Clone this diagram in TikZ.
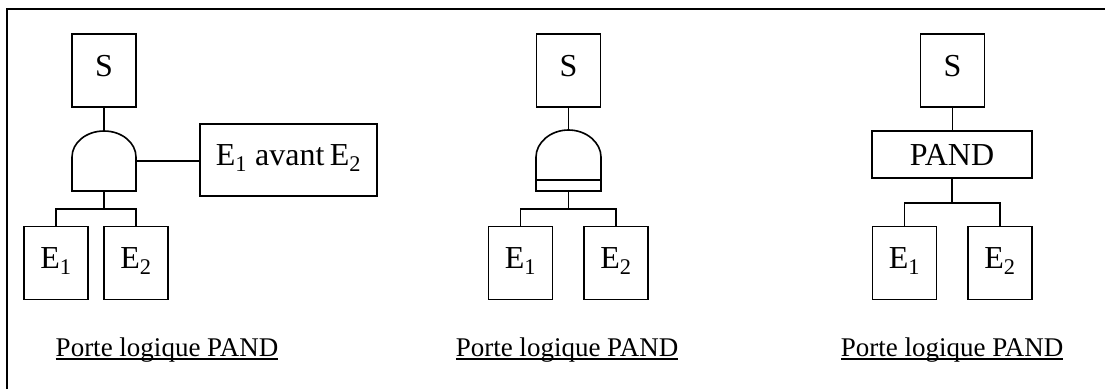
\documentclass[tikz,border=0pt]{standalone}
\usepackage{fontspec}
\setmainfont{Liberation Serif}
\newcommand{\myul}[1]{{\setbox0\hbox{#1}\rlap{\rule[-3.6pt]{\wd0}{1.9pt}}\box0}}
\begin{document}
\begin{tikzpicture}[x=1pt,y=-1pt,
  every node/.style={font=\fontsize{32}{36}\selectfont},
  evbox/.style={draw, line width=1.6pt, minimum width=64pt, minimum height=73pt,
    inner sep=0pt, text height=21pt, text depth=10pt},
  wide/.style={draw, line width=1.6pt, minimum width=177pt, minimum height=72pt,
    inner sep=0pt, text height=21pt, text depth=10pt},
  pandbox/.style={draw, line width=1.6pt, minimum width=160pt, minimum height=47pt, inner sep=0pt},
  conn/.style={line width=1.6pt},
  gate/.style={line width=1.6pt, line join=miter},
  caption/.style={font=\fontsize{27}{31}\selectfont, anchor=base, inner sep=0pt}]
\useasboundingbox (0,0) rectangle (1105,389);
% frame
\draw[line width=2pt] (7,389) -- (7,9) -- (1105,9);

% ---------- panel 1 ----------
\node[evbox] (S1) at (104,70.5) {S};
\draw[gate] (72,191) -- (72,157) .. controls (72,142.6) and (86.3,131) .. (104,131)
  .. controls (121.7,131) and (136,142.6) .. (136,157) -- (136,191) -- cycle;
\coordinate (g1top) at (104,131);
\coordinate (g1bot) at (104,191);
\coordinate (g1right) at (136,161);
\node[wide] (cond) at (288.5,160) {E\textsubscript{1} avant\,E\textsubscript{2}};
\node[evbox] (E11) at (56,263) {E\textsubscript{1}};
\node[evbox] (E21) at (136,263) {E\textsubscript{2}};
\coordinate (j1) at (104,209);
\draw[conn] (S1.south) -- (g1top);
\draw[conn] (g1right) -- (g1right -| cond.west);
\draw[conn] (g1bot) -- (j1);
\draw[conn] (E11.north) |- (j1) -| (E21.north);
\node[caption] (c1) at (167,356) {\myul{Porte logique PAND}};

% ---------- panel 2 ----------
\node[evbox] (S2) at (568.5,70.5) {S};
\draw[gate] (536,191) -- (536,157) .. controls (536,142.6) and (550.5,130) .. (568.5,130)
  .. controls (586.5,130) and (601,142.6) .. (601,157) -- (601,191) -- cycle;
\draw[gate] (536,180) -- (601,180);
\coordinate (g2top) at (568.5,130);
\coordinate (g2bot) at (568.5,191);
\node[evbox] (E12) at (520.5,263) {E\textsubscript{1}};
\node[evbox] (E22) at (616,263) {E\textsubscript{2}};
\coordinate (j2) at (568.5,209);
\draw[conn] (S2.south) -- (g2top);
\draw[conn] (g2bot) -- (j2);
\draw[conn] (E12.north) |- (j2) -| (E22.north);
\node[caption] (c2) at (567,356) {\myul{Porte logique PAND}};

% ---------- panel 3 ----------
\node[evbox] (S3) at (952.5,70.5) {S};
\node[pandbox] (P3) at (952,154.5) {PAND};
\node[evbox] (E13) at (904.5,263) {E\textsubscript{1}};
\node[evbox] (E23) at (1000,263) {E\textsubscript{2}};
\coordinate (j3) at (952,203);
\draw[conn] (S3.south) -- (S3.south |- P3.north);
\draw[conn] (P3.south) -- (j3);
\draw[conn] (E13.north) |- (j3) -| (E23.north);
\node[caption] (c3) at (952,356) {\myul{Porte logique PAND}};
\end{tikzpicture}
\end{document}
